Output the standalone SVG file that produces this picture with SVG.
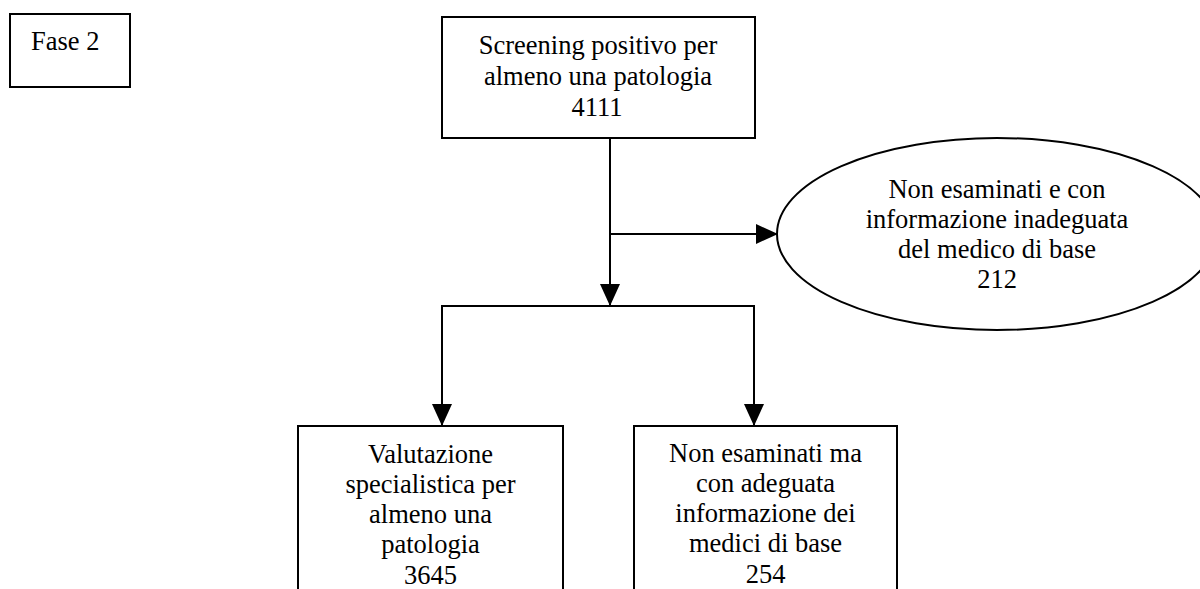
<svg xmlns="http://www.w3.org/2000/svg" width="1200" height="589" viewBox="0 0 1200 589">
<style>
.box{fill:#fff;stroke:#000;stroke-width:2}
.ln{fill:none;stroke:#000;stroke-width:2}
text{font-family:"Liberation Serif","Times New Roman",serif;font-size:26.5px;fill:#000}
.c{text-anchor:middle}
</style>
<defs>
<marker id="ah" markerUnits="userSpaceOnUse" markerWidth="22" markerHeight="20" refX="22" refY="10" orient="auto">
<path d="M0,0 L22,10 L0,20 Z" fill="#000"/>
</marker>
</defs>
<rect width="1200" height="589" fill="#fff"/>
<g id="fase">
<rect class="box" x="10" y="14" width="120" height="73"/>
<text x="31" y="50">Fase 2</text>
</g>
<g id="screening">
<rect class="box" x="442" y="17" width="313" height="121"/>
<text class="c" x="598" y="54">Screening positivo per</text>
<text class="c" x="598" y="85">almeno una patologia</text>
<text class="c" x="597" y="116">4111</text>
</g>
<g id="inadeguata">
<ellipse class="box" cx="997" cy="234" rx="220" ry="96"/>
<text class="c" x="997" y="198">Non esaminati e con</text>
<text class="c" x="997" y="228">informazione inadeguata</text>
<text class="c" x="997" y="258">del medico di base</text>
<text class="c" x="997" y="288">212</text>
</g>
<g id="valutazione">
<rect class="box" x="298" y="426" width="265" height="180"/>
<text class="c" x="430.5" y="463">Valutazione</text>
<text class="c" x="430.5" y="493">specialistica per</text>
<text class="c" x="430.5" y="523">almeno una</text>
<text class="c" x="430.5" y="553">patologia</text>
<text class="c" x="430.5" y="584">3645</text>
</g>
<g id="adeguata">
<rect class="box" x="634" y="426" width="263" height="180"/>
<text class="c" x="765.5" y="462">Non esaminati ma</text>
<text class="c" x="765.5" y="492">con adeguata</text>
<text class="c" x="765.5" y="522">informazione dei</text>
<text class="c" x="765.5" y="552">medici di base</text>
<text class="c" x="765.5" y="583">254</text>
</g>
<g id="connectors">
<line class="ln" x1="610" y1="138" x2="610" y2="306" marker-end="url(#ah)"/>
<line class="ln" x1="610" y1="234" x2="778" y2="234" marker-end="url(#ah)"/>
<line class="ln" x1="441" y1="306" x2="755" y2="306"/>
<line class="ln" x1="442" y1="306" x2="442" y2="426" marker-end="url(#ah)"/>
<line class="ln" x1="754" y1="306" x2="754" y2="426" marker-end="url(#ah)"/>
</g>
</svg>
